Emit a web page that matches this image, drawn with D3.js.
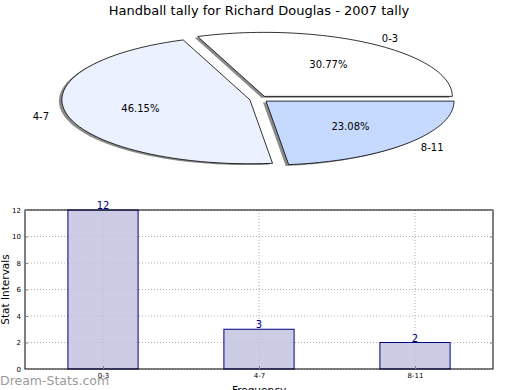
<!DOCTYPE html>
<html>
<head>
<meta charset="utf-8">
<script src="https://cdn.jsdelivr.net/npm/d3@7"></script>
<style>
  body { margin: 0; background: #fff; }
  svg { display: block; font-family: "DejaVu Sans", sans-serif; }
</style>
</head>
<body>
<div id="chart"></div>
<script>
var title = 'Handball tally for Richard Douglas - 2007 tally';
var pieLabels = ['0-3', '4-7', '8-11'];
var pieValues = [4, 6, 3];
var pieColors = ['#ffffff', '#ebf1fe', '#c6d9fe'];

var barCategories = ['0-3', '4-7', '8-11'];
var barValues = [12, 3, 2];
var yTicks = [0, 2, 4, 6, 8, 10, 12];

var width = 520, height = 390;

var svg = d3.select('#chart').append('svg')
    .attr('width', width)
    .attr('height', height);

svg.append('text')
    .attr('x', 259).attr('y', 15)
    .attr('text-anchor', 'middle')
    .style('font-size', '13px')
    .text(title);

// ---- pie (elliptical, exploded, shadowed) ----
var cx = 259, cy = 99, rx = 188, ry = 64, explode = 0.05;
var total = d3.sum(pieValues);

// angles counter-clockwise from 3 o'clock, like matplotlib
var slices = [];
var start = 0;
pieValues.forEach(function (v, i) {
    var sweep = v / total * 2 * Math.PI;
    slices.push({ label: pieLabels[i], value: v, a0: start, a1: start + sweep, color: pieColors[i] });
    start += sweep;
});

function slicePath(s, ox, oy) {
    var mid = (s.a0 + s.a1) / 2;
    var x0 = cx + ox + explode * rx * Math.cos(mid);
    var y0 = cy + oy - explode * ry * Math.sin(mid);
    var pts = d3.range(0, 61).map(function (k) {
        var a = s.a0 + (s.a1 - s.a0) * k / 60;
        return [x0 + rx * Math.cos(a), y0 - ry * Math.sin(a)];
    });
    return 'M' + x0 + ',' + y0 + 'L' + pts.map(function (p) { return p.join(','); }).join('L') + 'Z';
}

var pieGroup = svg.append('g');
pieGroup.selectAll('path.shadow')
    .data(slices).enter().append('path')
    .attr('class', 'shadow')
    .attr('d', function (d) { return slicePath(d, -3, 1.3); })
    .attr('fill', '#8c8c8c');

pieGroup.selectAll('path.slice')
    .data(slices).enter().append('path')
    .attr('class', 'slice')
    .attr('d', function (d) { return slicePath(d, 0, 0); })
    .attr('fill', function (d) { return d.color; })
    .attr('stroke', '#000')
    .attr('stroke-width', 0.8);

slices.forEach(function (s) {
    var mid = (s.a0 + s.a1) / 2;
    var x0 = cx + explode * rx * Math.cos(mid);
    var y0 = cy - explode * ry * Math.sin(mid);
    var lx = x0 + 1.1 * rx * Math.cos(mid);
    var ly = y0 - 1.1 * ry * Math.sin(mid);
    pieGroup.append('text')
        .attr('x', lx).attr('y', ly)
        .attr('dy', '0.35em')
        .attr('text-anchor', Math.cos(mid) > 0 ? 'start' : 'end')
        .style('font-size', '10px')
        .text(s.label);
    pieGroup.append('text')
        .attr('x', x0 + 0.6 * rx * Math.cos(mid))
        .attr('y', y0 - 0.6 * ry * Math.sin(mid))
        .attr('dy', '0.35em')
        .attr('text-anchor', 'middle')
        .style('font-size', '10px')
        .text((s.value / total * 100).toFixed(2) + '%');
});

// ---- bar chart ----
var margin = { left: 25, right: 27, top: 210, bottom: 21 };
var plotW = width - margin.left - margin.right;
var plotH = height - margin.top - margin.bottom;

var x = d3.scalePoint()
    .domain(barCategories)
    .range([0, plotW])
    .padding(0.5);
var barW = x.step() * 0.45;

var y = d3.scaleLinear()
    .domain([0, 12])
    .range([plotH, 0]);

var chartGroup = svg.append('g')
    .attr('transform', 'translate(' + margin.left + ',' + margin.top + ')');

// grid
chartGroup.selectAll('line.hgrid')
    .data(yTicks).enter().append('line')
    .attr('x1', 0).attr('x2', plotW)
    .attr('y1', function (d) { return y(d); })
    .attr('y2', function (d) { return y(d); })
    .attr('stroke', '#b0b0b0')
    .attr('stroke-dasharray', '1,2');
chartGroup.selectAll('line.vgrid')
    .data(barCategories).enter().append('line')
    .attr('x1', function (d) { return x(d); })
    .attr('x2', function (d) { return x(d); })
    .attr('y1', 0).attr('y2', plotH)
    .attr('stroke', '#b0b0b0')
    .attr('stroke-dasharray', '1,2');

// bars
chartGroup.selectAll('rect.bar')
    .data(barValues).enter().append('rect')
    .attr('x', function (d, i) { return x(barCategories[i]) - barW / 2; })
    .attr('y', function (d) { return y(d); })
    .attr('width', barW)
    .attr('height', function (d) { return plotH - y(d); })
    .attr('fill', 'rgba(191,191,223,0.8)')
    .attr('stroke', '#000080')
    .attr('stroke-width', 1);

chartGroup.selectAll('text.val')
    .data(barValues).enter().append('text')
    .attr('x', function (d, i) { return x(barCategories[i]); })
    .attr('y', function (d) { return y(d) - 1; })
    .attr('text-anchor', 'middle')
    .attr('fill', '#000080')
    .style('font-size', '10px')
    .text(function (d) { return d; });

// frame
chartGroup.append('rect')
    .attr('width', plotW).attr('height', plotH)
    .attr('fill', 'none')
    .attr('stroke', '#000')
    .attr('stroke-width', 1);

var yAxis = d3.axisLeft(y).tickValues(yTicks).tickSize(-3).tickPadding(4);
chartGroup.append('g')
    .attr('class', 'y axis')
    .call(yAxis)
    .call(function (g) {
        g.select('.domain').remove();
        g.selectAll('text').style('font-size', '7px').style('font-family', 'DejaVu Sans');
        g.selectAll('line').attr('stroke', '#888');
    });
chartGroup.append('g')
    .attr('transform', 'translate(' + plotW + ',0)')
    .call(d3.axisRight(y).tickValues(yTicks).tickSize(-3).tickFormat(''))
    .call(function (g) {
        g.select('.domain').remove();
        g.selectAll('line').attr('stroke', '#888');
    });

var xAxis = d3.axisBottom(x).tickSize(-3).tickPadding(4);
chartGroup.append('g')
    .attr('class', 'x axis')
    .attr('transform', 'translate(0,' + plotH + ')')
    .call(xAxis)
    .call(function (g) {
        g.select('.domain').remove();
        g.selectAll('text').style('font-size', '7px').style('font-family', 'DejaVu Sans');
        g.selectAll('line').attr('stroke', '#888');
    });

svg.append('text')
    .attr('transform', 'translate(5,' + (margin.top + plotH / 2) + ') rotate(-90)')
    .attr('text-anchor', 'middle')
    .attr('dy', '0.35em')
    .style('font-size', '10.5px')
    .text('Stat Intervals');

svg.append('text')
    .attr('x', margin.left + plotW / 2).attr('y', 394)
    .attr('text-anchor', 'middle')
    .style('font-size', '10.5px')
    .text('Frequency');

svg.append('text')
    .attr('x', 0).attr('y', 385)
    .attr('fill', '#9a9a9a')
    .style('font-size', '12.5px')
    .text('Dream-Stats.com');
</script>
</body>
</html>
